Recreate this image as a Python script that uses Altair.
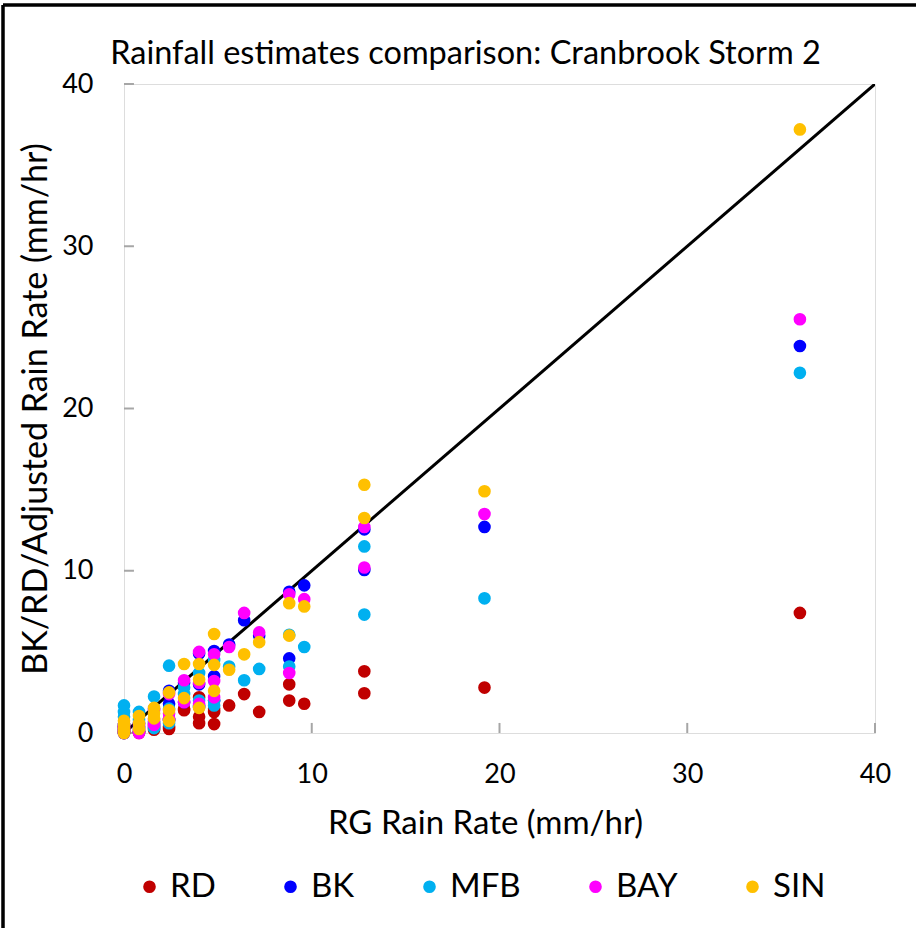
import altair as alt
import pandas as pd

# RG rain-rate of each time step (x) and the matching estimates of each series (y)
RG  = [0, 0, 0, 0, 0, 0, 0.8, 0.8, 0.8, 1.6, 1.6, 1.6, 2.4, 2.4, 2.4, 3.2, 3.2,
       4.0, 4.0, 4.0, 4.8, 4.8, 4.8, 5.6, 6.4, 7.2, 8.8, 8.8, 9.6, 12.8, 12.8, 19.2, 36.0]
RD  = [0.3, 0.1, 0.0, 0.2, 0.0, 0.4, 0.0, 0.2, 0.1, 0.5, 0.2, 0.3, 0.8, 0.4, 0.25, 1.5, 1.4,
       2.2, 0.6, 1.0, 1.5, 1.3, 0.55, 1.7, 2.4, 1.3, 3.0, 2.0, 1.8, 3.8, 2.45, 2.8, 7.4]
BK  = [0.4, 0.2, 0.1, 0.3, 0.0, 0.5, 0.1, 0.4, 0.6, 1.5, 0.7, 0.4, 2.6, 1.8, 0.8, 3.1, 1.9,
       4.9, 3.0, 1.6, 5.05, 3.5, 2.0, 5.45, 6.95, 6.0, 8.7, 4.6, 9.1, 12.55, 10.05, 12.7, 23.85]
MFB = [1.7, 1.3, 1.0, 0.5, 0.2, 0.0, 1.3, 0.8, 0.3, 2.25, 0.6, 0.3, 4.15, 1.5, 0.6, 2.8, 2.4,
       3.7, 2.0, 1.7, 4.5, 2.0, 1.7, 4.1, 3.25, 3.95, 6.05, 4.1, 5.3, 11.5, 7.3, 8.3, 22.2]
BAY = [0.5, 0.3, 0.1, 0.2, 0.0, 0.4, 0.0, 0.5, 0.3, 1.4, 0.8, 0.5, 2.4, 1.2, 0.9, 3.25, 1.9,
       5.0, 3.1, 1.8, 4.85, 3.2, 2.2, 5.3, 7.4, 6.2, 8.55, 3.7, 8.25, 12.7, 10.2, 13.5, 25.5]
SIN = [0.75, 0.5, 0.3, 0.1, 0.0, 0.2, 1.05, 0.6, 0.25, 1.55, 0.9, 1.2, 2.5, 1.4, 0.75, 4.25, 2.15,
       4.25, 3.3, 1.55, 6.1, 4.2, 2.6, 3.9, 4.85, 5.6, 8.0, 6.0, 7.8, 15.3, 13.25, 14.9, 37.2]

SERIES = ["RD", "BK", "MFB", "BAY", "SIN"]
COLORS = ["#C00000", "#0000FF", "#00B0F0", "#FF00FF", "#FFC000"]
LINE_X = [0, 40]
TICKS = [0, 10, 20, 30, 40]

FONT = "Lato"

values = {"RD": RD, "BK": BK, "MFB": MFB, "BAY": BAY, "SIN": SIN}
rows = []
for s in SERIES:
    for x, y in zip(RG, values[s]):
        rows.append({"rg": x, "est": y, "series": s})
df = pd.DataFrame(rows)

line_df = pd.DataFrame({"x": LINE_X, "y": LINE_X})
xt = pd.DataFrame({"v": TICKS, "lo": [0] * len(TICKS), "hi": [0.62] * len(TICKS)})
yt = pd.DataFrame({"v": TICKS, "lo": [0] * len(TICKS), "hi": [0.53] * len(TICKS)})

xscale = alt.Scale(domain=[0, 40], nice=False)
yscale = alt.Scale(domain=[0, 40], nice=False)

points = alt.Chart(df).mark_circle(size=160, opacity=1).encode(
    x=alt.X("rg:Q", scale=xscale, title="RG Rain Rate (mm/hr)",
            axis=alt.Axis(values=TICKS, ticks=False, domain=False, grid=False,
                          labelFlush=False,
                          labelFontSize=27, labelPadding=28, titleFontSize=33,
                          titlePadding=20, titleFontWeight="normal", titleX=361,
                          labelColor="black", titleColor="black",
                          labelFont=FONT, titleFont=FONT)),
    y=alt.Y("est:Q", scale=yscale, title="BK/RD/Adjusted Rain Rate (mm/hr)",
            axis=alt.Axis(values=TICKS, ticks=False, domain=False, grid=False,
                          labelFlush=False,
                          labelFontSize=27, labelPadding=31, titleFontSize=34,
                          titlePadding=8, titleFontWeight="normal",
                          labelColor="black", titleColor="black",
                          labelFont=FONT, titleFont=FONT)),
    color=alt.Color("series:N", scale=alt.Scale(domain=SERIES, range=COLORS),
                    legend=alt.Legend(title=None, orient="none", direction="horizontal",
                                      legendX=9, legendY=786, symbolType="circle",
                                      symbolSize=160, labelFontSize=33, labelFont=FONT,
                                      labelColor="black", columnPadding=58,
                                      labelOffset=4, symbolStrokeWidth=0)),
)

line = alt.Chart(line_df).mark_line(color="black", strokeWidth=3, clip=True).encode(
    x=alt.X("x:Q", scale=xscale), y=alt.Y("y:Q", scale=yscale))

xticks = alt.Chart(xt).mark_rule(color="#A6A6A6", strokeWidth=2).encode(
    x=alt.X("v:Q", scale=xscale), y=alt.Y("lo:Q", scale=yscale), y2="hi:Q")
yticks = alt.Chart(yt).mark_rule(color="#A6A6A6", strokeWidth=2).encode(
    y=alt.Y("v:Q", scale=yscale), x=alt.X("lo:Q", scale=xscale), x2="hi:Q")

# outer chart-area frame (left and top edges visible in the reference)
frame_left = alt.Chart(line_df).mark_rule(color="black", strokeWidth=3).encode(
    x=alt.value(-121), y=alt.value(-79), y2=alt.value(850))
frame_top = alt.Chart(line_df).mark_rule(color="black", strokeWidth=3).encode(
    x=alt.value(-121), x2=alt.value(800), y=alt.value(-79))

chart = alt.layer(frame_left, frame_top, xticks, yticks, line, points).properties(
    width=751, height=649,
    title=alt.TitleParams("Rainfall estimates comparison: Cranbrook Storm 2",
                          fontSize=32.5, font=FONT, fontWeight="normal", color="black",
                          anchor="middle", dx=-34, offset=-67),
    autosize=alt.AutoSizeParams(type="none"),
    padding={"left": 124, "top": 84, "right": 41, "bottom": 195},
).configure_view(stroke="#A6A6A6", strokeWidth=2).configure(background="white")

chart.save("out.html", embed_options={"renderer": "svg", "actions": False})
